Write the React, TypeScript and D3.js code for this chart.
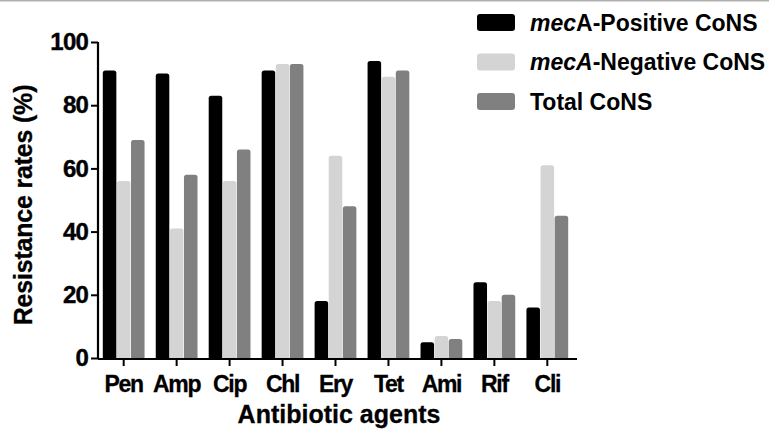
import React, { useRef, useEffect } from 'react';
import * as d3 from 'd3';

const agents = ['Pen', 'Amp', 'Cip', 'Chl', 'Ery', 'Tet', 'Ami', 'Rif', 'Cli'];
const positive = [91, 90, 83, 91, 18, 94, 5, 24, 16];
const negative = [56, 41, 56, 93, 64, 89, 7, 18, 61];
const total = [69, 58, 66, 93, 48, 91, 6, 20, 45];
const seriesNames = ['positive', 'negative', 'total'];
const colors = ['#000000', '#d4d4d4', '#808080'];
const yTicks = [0, 20, 40, 60, 80, 100];

const W = 769;
const H = 434;
const font = '"Liberation Sans", Arial, sans-serif';

function App() {
  const ref = useRef<SVGSVGElement>(null);

  useEffect(() => {
    const svg = d3.select(ref.current);
    svg.selectAll('*').remove();

    const left = 98;
    const right = 573;
    const top = 42;
    const bottom = 358;

    svg.append('line')
      .attr('x1', 0).attr('x2', W).attr('y1', 0.5).attr('y2', 0.5)
      .attr('stroke', '#b0b0b0').attr('stroke-width', 2);

    const x = d3.scaleBand().domain(agents).range([left, right]).paddingInner(0.19).paddingOuter(0.08);
    const xs = d3.scaleBand().domain(seriesNames).range([0, x.bandwidth()]).padding(0.04);
    const y = d3.scaleLinear().domain([0, 100]).range([bottom, top]);

    const data = [positive, negative, total];
    const g = svg.append('g');
    data.forEach((vals, si) => {
      g.selectAll(`.bar${si}`)
        .data(vals)
        .enter()
        .append('path')
        .attr('fill', colors[si])
        .attr('d', (v, i) => {
          const x0 = (x(agents[i]) as number) + (xs(seriesNames[si]) as number);
          const w = xs.bandwidth();
          const y0 = y(v);
          const r = 2.5;
          return `M${x0},${bottom} L${x0},${y0 + r} Q${x0},${y0} ${x0 + r},${y0} L${x0 + w - r},${y0} Q${x0 + w},${y0} ${x0 + w},${y0 + r} L${x0 + w},${bottom} Z`;
        });
    });

    // y axis
    const yAxis = svg.append('g')
      .attr('transform', `translate(${left},0)`)
      .call(d3.axisLeft(y).tickValues(yTicks).tickSize(7).tickPadding(3));
    yAxis.select('.domain').attr('stroke', '#000').attr('stroke-width', 2.2).attr('d', `M0,${top}V${bottom + 1}`);
    yAxis.selectAll('.tick line').attr('stroke', '#000').attr('stroke-width', 2);
    yAxis.selectAll('.tick text')
      .attr('fill', '#000')
      .attr('stroke', '#000').attr('stroke-width', 0.4)
      .style('font-family', font).style('font-size', '24px').style('font-weight', 'bold')
      .style('letter-spacing', '-0.8px');

    // x axis
    const xAxis = svg.append('g')
      .attr('transform', `translate(0,${bottom + 1})`)
      .call(d3.axisBottom(x).tickSize(7).tickPadding(10));
    xAxis.select('.domain').attr('stroke', '#000').attr('stroke-width', 2.2).attr('d', `M${left},0H${right + 4}`);
    xAxis.selectAll('.tick line').attr('stroke', '#000').attr('stroke-width', 2);
    xAxis.selectAll('.tick text')
      .attr('fill', '#000')
      .attr('stroke', '#000').attr('stroke-width', 0.3)
      .style('font-family', font).style('font-size', '23px').style('font-weight', 'bold')
      .style('letter-spacing', '-1.3px');

    svg.append('text')
      .attr('transform', `translate(32,205) rotate(-90)`)
      .attr('text-anchor', 'middle')
      .attr('stroke', '#000').attr('stroke-width', 0.3)
      .style('font-family', font).style('font-size', '25px').style('font-weight', 'bold')
      .style('letter-spacing', '-0.2px')
      .text('Resistance rates (%)');

    svg.append('text')
      .attr('x', 339)
      .attr('y', 423)
      .attr('text-anchor', 'middle')
      .attr('stroke', '#000').attr('stroke-width', 0.3)
      .style('font-family', font).style('font-size', '25px').style('font-weight', 'bold')
      .text('Antibiotic agents');

    // legend
    const legendItems = [
      { italic: 'mec', rest: 'A-Positive CoNS' },
      { italic: 'mecA', rest: '-Negative CoNS' },
      { italic: '', rest: 'Total CoNS' },
    ];
    legendItems.forEach((it, i) => {
      const cy = 22.5 + i * 39.5;
      svg.append('rect')
        .attr('x', 477).attr('y', cy - 8.5).attr('width', 38).attr('height', 17)
        .attr('rx', 3).attr('fill', colors[i]);
      const t = svg.append('text')
        .attr('x', 530).attr('y', cy + 8)
        .style('font-family', font).style('font-size', '23px').style('font-weight', 'bold');
      if (it.italic) t.append('tspan').style('font-style', 'italic').text(it.italic);
      t.append('tspan').text(it.rest);
    });
  }, []);

  return (
    <svg
      ref={ref}
      width={W}
      height={H}
      style={{ position: 'absolute', left: 0, top: 0, background: '#fff' }}
    ></svg>
  );
}

export default App;
